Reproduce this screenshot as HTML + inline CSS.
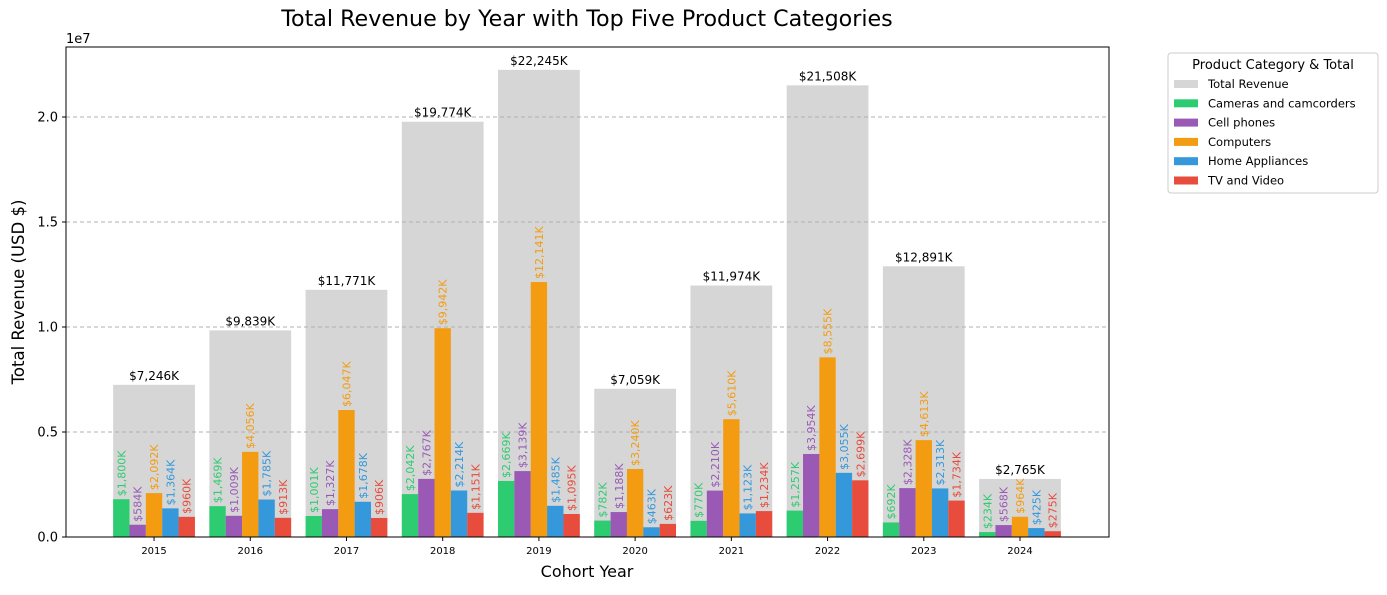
<!DOCTYPE html>
<html><head><meta charset="utf-8"><style>
body{margin:0;background:#fff;font-family:"Liberation Sans","DejaVu Sans",sans-serif;}
svg text{font-family:"DejaVu Sans","Liberation Sans",sans-serif;}
</style></head><body>
<svg id="chart" width="1387" height="590" xmlns="http://www.w3.org/2000/svg">
<text x="587" y="26" font-size="22.2" text-anchor="middle">Total Revenue by Year with Top Five Product Categories</text>
<g id="grid"></g><g id="bars"></g>
<rect x="66" y="47" width="1043" height="490" fill="none" stroke="#000" stroke-width="1"/>
<g id="axes"></g>
<text x="66" y="43" font-size="13">1e7</text>
<text x="587" y="577" font-size="16" text-anchor="middle">Cohort Year</text>
<text transform="translate(24,292) rotate(-90)" font-size="16.5" text-anchor="middle">Total Revenue (USD $)</text>
<g id="legend"></g>
</svg>
<script>
const years=[2015,2016,2017,2018,2019,2020,2021,2022,2023,2024];
const totals=[7246,9839,11771,19774,22245,7059,11974,21508,12891,2765];
const cameras=[1800,1469,1001,2042,2669,782,770,1257,692,234];
const phones=[584,1009,1327,2767,3139,1188,2210,3954,2328,568];
const computers=[2092,4056,6047,9942,12141,3240,5610,8555,4613,964];
const appliances=[1364,1785,1678,2214,1485,463,1123,3055,2313,425];
const tv=[960,913,906,1151,1095,623,1234,2699,1734,275];
const seriesNames=["Cameras and camcorders","Cell phones","Computers","Home Appliances","TV and Video"];
const seriesColors=["#2ecc71","#9b59b6","#f39c12","#3498db","#e74c3c"];
const yTicks=[0,5000,10000,15000,20000];
const yTickLabels=["0.0","0.5","1.0","1.5","2.0"];
const series=[cameras,phones,computers,appliances,tv];
const NS="http://www.w3.org/2000/svg";
const X0=66,X1=1109,Y0=537,Y1=47;
const xmin=-0.915,xmax=9.925;
const xs=i=>X0+(i-xmin)/(xmax-xmin)*(X1-X0);
const ys=v=>Y0-v*0.021;
const step=xs(1)-xs(0);
const fmt=v=>"$"+v.toLocaleString("en-US")+"K";
function mk(tag,attrs,parent,text){const e=document.createElementNS(NS,tag);for(const k in attrs)e.setAttribute(k,attrs[k]);if(text!==undefined)e.textContent=text;parent.appendChild(e);return e;}
const bars=document.getElementById('bars'),axes=document.getElementById('axes'),legend=document.getElementById('legend');
const tw=step*0.85, sw=tw/5;
years.forEach((y,i)=>{
  const cx=xs(i);
  const r=mk('rect',{x:cx-tw/2,y:ys(totals[i]),width:tw,height:Y0-ys(totals[i]),fill:'#d6d6d6'},bars);
  
  
  const t=mk('text',{x:cx,y:ys(totals[i])-5,'font-size':12,'text-anchor':'middle'},bars,fmt(totals[i]));
  
  
});
yTicks.forEach((v,k)=>{
  if(v>0){const g=mk('line',{x1:X0,x2:X1,y1:ys(v),y2:ys(v),stroke:'#b0b0b0','stroke-dasharray':'4,3','stroke-width':0.9},bars);
  
  }
  const tk=mk('line',{x1:X0-4,x2:X0,y1:ys(v),y2:ys(v),stroke:'#000'},axes);
  
  
  const tl=mk('text',{x:X0-8,y:ys(v)+4.5,'font-size':13,'text-anchor':'end'},axes,yTickLabels[k]);
  
  
});
years.forEach((y,i)=>{
  const cx=xs(i);
  series.forEach((s,j)=>{
    const bx=cx-tw/2+j*sw;
    const r=mk('rect',{x:bx,y:ys(s[i]),width:sw,height:Y0-ys(s[i]),fill:seriesColors[j]},bars);
    
    
    const lx=bx+sw/2+4, ly=ys(s[i])-3;
    const t=mk('text',{x:lx,y:ly,'font-size':11,fill:seriesColors[j],transform:`rotate(-90 ${lx} ${ly})`},bars,fmt(s[i]));
    
    
  });
  const tk=mk('line',{x1:cx,x2:cx,y1:Y0,y2:Y0+4,stroke:'#000'},axes);
  
  
  const tl=mk('text',{x:cx,y:Y0+17,'font-size':10,'text-anchor':'middle'},axes,y);
  
  
});
mk('rect',{x:1168,y:53,width:210,height:140,rx:3,fill:'#fff',stroke:'#ccc'},legend);
const lt=mk('text',{x:1273,y:69,'font-size':13,'text-anchor':'middle'},legend,'Product Category & Total');


const names=["Total Revenue"].concat(seriesNames), cols=["#d6d6d6"].concat(seriesColors);
names.forEach((n,k)=>{
  const yy=84+k*19.3;
  const g=mk('g',{},legend);
  
  
  mk('rect',{x:1174,y:yy-4,width:24,height:8,fill:cols[k]},g);
  mk('text',{x:1208,y:yy+4,'font-size':11.5},g,n);
});
</script>
</body></html>
